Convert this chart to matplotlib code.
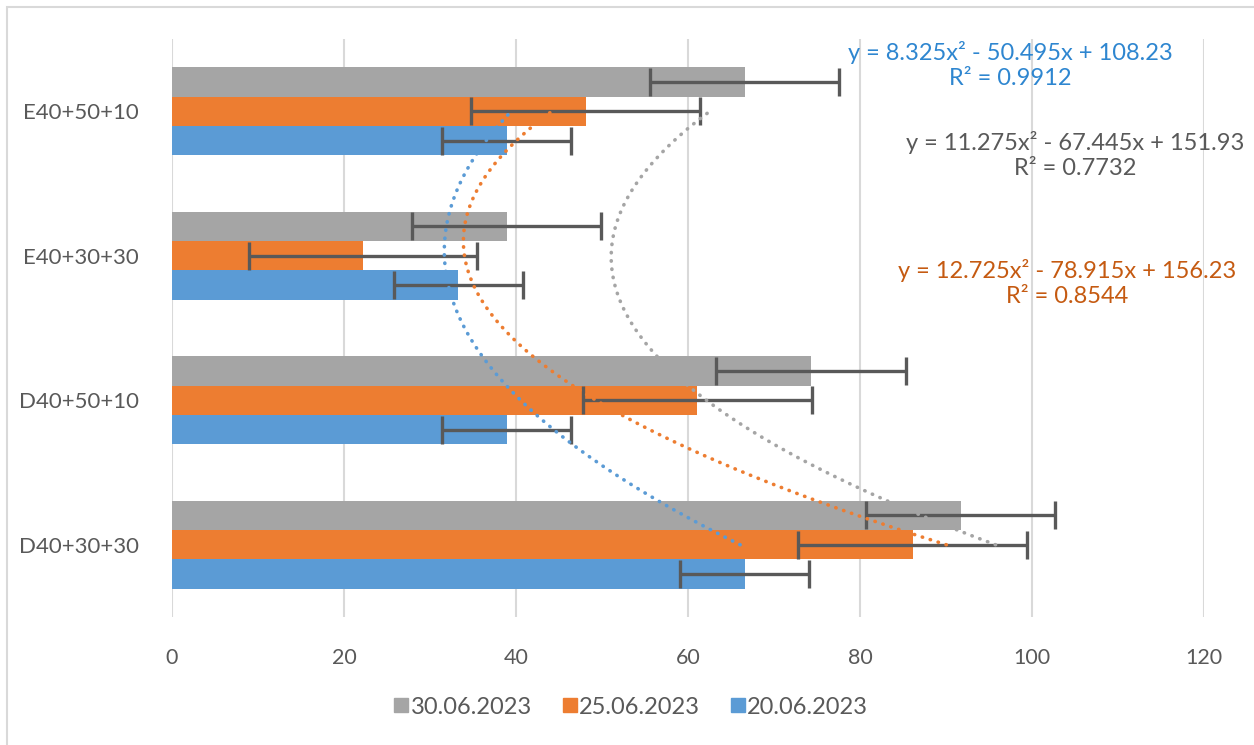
import numpy as np
import matplotlib
matplotlib.use("Agg")
import matplotlib.pyplot as plt
from matplotlib.lines import Line2D
from matplotlib.patches import Rectangle

plt.rcParams['font.family'] = ['Lato', 'DejaVu Sans']

# categories from bottom to top (x = 1..4 for the trendlines)
categories = ["D40+30+30", "D40+50+10", "E40+30+30", "E40+50+10"]
series_names = ["20.06.2023", "25.06.2023", "30.06.2023"]
values_20 = [66.606, 38.903, 33.307, 38.904]
values_25 = [86.106, 61.103, 22.207, 48.104]
values_30 = [91.705, 74.306, 38.904, 66.605]
colors = ["#5B9BD5", "#ED7D31", "#A5A5A5"]
text_colors = ["#2E86D0", "#C55A11", "#595959"]
x_ticks = [0, 20, 40, 60, 80, 100, 120]

all_values = [values_20, values_25, values_30]

fig = plt.figure(figsize=(12.54, 7.45), dpi=100)
ax = fig.add_axes([172 / 1254, 1 - 617 / 745, 1032 / 1254, 578 / 745])

# light chart border (left/top edges visible)
fig.patches.append(Rectangle((7 / 1254, -0.1), 1.2, 1 - 7 / 745 + 0.1,
                             transform=fig.transFigure, fill=False,
                             edgecolor="#D9D9D9", lw=1.5))

pos = np.arange(1, len(categories) + 1)
h = 0.204
offsets = [-h, 0, h]

for vals, off, col in zip(all_values, offsets, colors):
    v = np.array(vals)
    se = v.std(ddof=1) / np.sqrt(len(v))
    ax.barh(pos + off, v, height=h, color=col, zorder=2)
    ax.errorbar(v, pos + off, xerr=se, fmt="none", ecolor="#595959",
                elinewidth=2.4, capsize=10, capthick=2.4, zorder=3)

# polynomial (order 2) trendlines over category index
xs = np.linspace(1, 4, 200)
fits = []
for vals, col in zip(all_values, colors):
    coef = np.polyfit(pos, vals, 2)
    fits.append(coef)
    ax.plot(np.polyval(coef, xs), xs, color=col, lw=2.6,
            linestyle=(0, (0.1, 2.2)), dash_capstyle="round", zorder=4)


def eq_text(coef, vals):
    pred = np.polyval(coef, pos)
    r2 = 1 - np.sum((np.array(vals) - pred) ** 2) / np.sum((np.array(vals) - np.mean(vals)) ** 2)
    a, b, c = coef
    sb = "-" if b < 0 else "+"
    return "y = %.3fx\u00b2 %s %.3fx + %.2f\nR\u00b2 = %.4f" % (a, sb, abs(b), c, r2)


eq_pos = [(1010, 65), (1067, 283), (1075, 155)]
for coef, vals, tc, (px, py) in zip(fits, all_values, text_colors, eq_pos):
    fig.text(px / 1254, 1 - py / 745, eq_text(coef, vals), color=tc,
             fontsize=17, ha="center", va="center", linespacing=1.25)

ax.set_xlim(0, 120)
ax.set_ylim(0.5, 4.5)
ax.set_xticks(x_ticks)
ax.set_yticks(pos)
ax.set_yticklabels(categories, fontsize=16)
ax.grid(axis="x", color="#D9D9D9", lw=1.5, zorder=0)
ax.set_axisbelow(True)
for s in ax.spines.values():
    s.set_visible(False)
ax.tick_params(length=0, colors="#595959")
ax.tick_params(axis="x", pad=22, labelsize=15.5)
ax.tick_params(axis="y", pad=24)

handles = [Line2D([], [], marker="s", linestyle="none", markersize=10,
                  markerfacecolor=colors[i], markeredgecolor=colors[i])
           for i in [2, 1, 0]]
labels = [series_names[i] for i in [2, 1, 0]]
fig.legend(handles, labels, loc="center", bbox_to_anchor=(630 / 1254, 1 - 707 / 745),
           ncol=3, frameon=False, fontsize=17, labelcolor="#595959",
           handletextpad=0.0, columnspacing=1.2, handlelength=0.8)

fig.savefig("out.png", dpi=100)
